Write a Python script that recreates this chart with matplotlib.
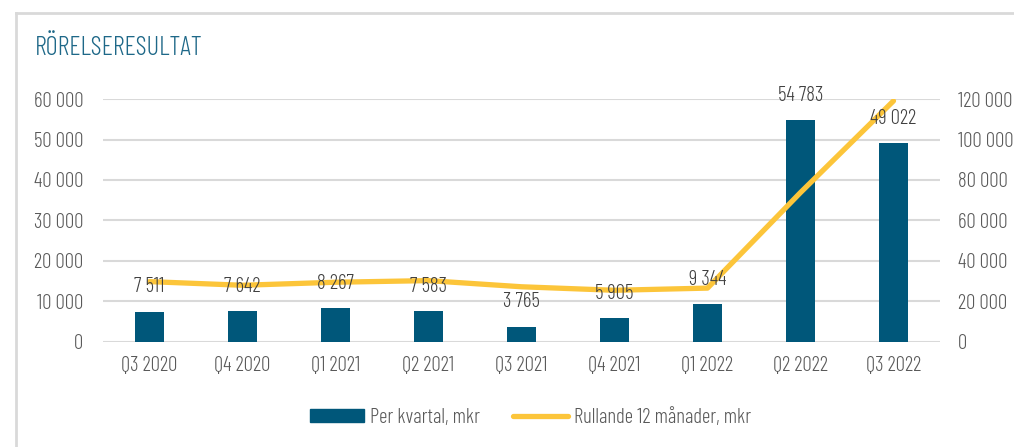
import matplotlib.pyplot as plt
from matplotlib.lines import Line2D
from matplotlib.patches import Patch

plt.rcParams['font.family'] = ['Barlow Condensed', 'DejaVu Sans']
plt.rcParams['font.weight'] = 300

quarters = ["Q3 2020", "Q4 2020", "Q1 2021", "Q2 2021", "Q3 2021",
            "Q4 2021", "Q1 2022", "Q2 2022", "Q3 2022"]
per_quarter = [7511, 7642, 8267, 7583, 3765, 5905, 9344, 54783, 49022]
rolling_12m = [29800, 28000, 29500, 30300, 27257, 25520, 26597, 73797, 119054]
left_ticks = [0, 10000, 20000, 30000, 40000, 50000, 60000]
right_ticks = [0, 20000, 40000, 60000, 80000, 100000, 120000]

bar_color = "#00577a"
line_color = "#fcc53a"
text_color = "#595959"
grid_color = "#d9d9d9"


def fmt(v):
    return f"{v:,}".replace(",", " ")


fig = plt.figure(figsize=(10.14, 4.47), dpi=100)
ax = fig.add_axes([0.1016, 0.235, 0.8254, 0.5435])
ax2 = ax.twinx()

x = list(range(len(quarters)))
ax.bar(x, per_quarter, width=0.31, color=bar_color, zorder=3)
ax2.plot(x, rolling_12m, color=line_color, lw=3.8, solid_capstyle="round", zorder=4)

for i, v in enumerate(per_quarter):
    ax2.annotate(fmt(v), xy=(i, v), xycoords=ax.transData, xytext=(0, 11),
                 textcoords="offset points", ha="center", va="bottom",
                 fontsize=15, color="#404040", zorder=6)

ax.set_xlim(-0.5, len(quarters) - 0.5)
ax.set_ylim(0, 60000)
ax2.set_ylim(0, 120000)
ax.set_yticks(left_ticks)
ax.set_yticklabels([fmt(t) for t in left_ticks])
ax2.set_yticks(right_ticks)
ax2.set_yticklabels([fmt(t) for t in right_ticks])
ax.set_xticks(x)
ax.set_xticklabels(quarters)

ax.grid(axis="y", color=grid_color, lw=1.5, zorder=0)
ax.set_axisbelow(True)
for a in (ax, ax2):
    for s in a.spines.values():
        s.set_visible(False)
ax.tick_params(axis="y", length=0, pad=14, labelsize=15, labelcolor=text_color)
ax.tick_params(axis="x", length=0, pad=10, labelsize=15, labelcolor=text_color)
ax2.tick_params(axis="y", length=0, pad=13, labelsize=15, labelcolor=text_color)

handles = [Patch(color=bar_color),
           Line2D([0], [0], color=line_color, lw=3.8, solid_capstyle="round")]
fig.legend(handles, ["Per kvartal, mkr", "Rullande 12 månader, mkr"],
           loc="center", bbox_to_anchor=(0.523, 0.066), ncol=2, frameon=False,
           fontsize=15, labelcolor=text_color, handlelength=2.6,
           handleheight=0.55, handletextpad=0.3, columnspacing=1.6)

fig.text(0.0345, 0.877, "RÖRELSERESULTAT", fontsize=19, color="#1e6888",
         ha="left", va="baseline", weight=300)

# frame around the chart area
fig.add_artist(Line2D([16 / 1014, 1.0], [1 - 13 / 447, 1 - 13 / 447],
                      transform=fig.transFigure, color="#d9d9d9", lw=2))
fig.add_artist(Line2D([16 / 1014, 16 / 1014], [0, 1 - 13 / 447],
                      transform=fig.transFigure, color="#d9d9d9", lw=2))

fig.savefig("out.png", dpi=100)
